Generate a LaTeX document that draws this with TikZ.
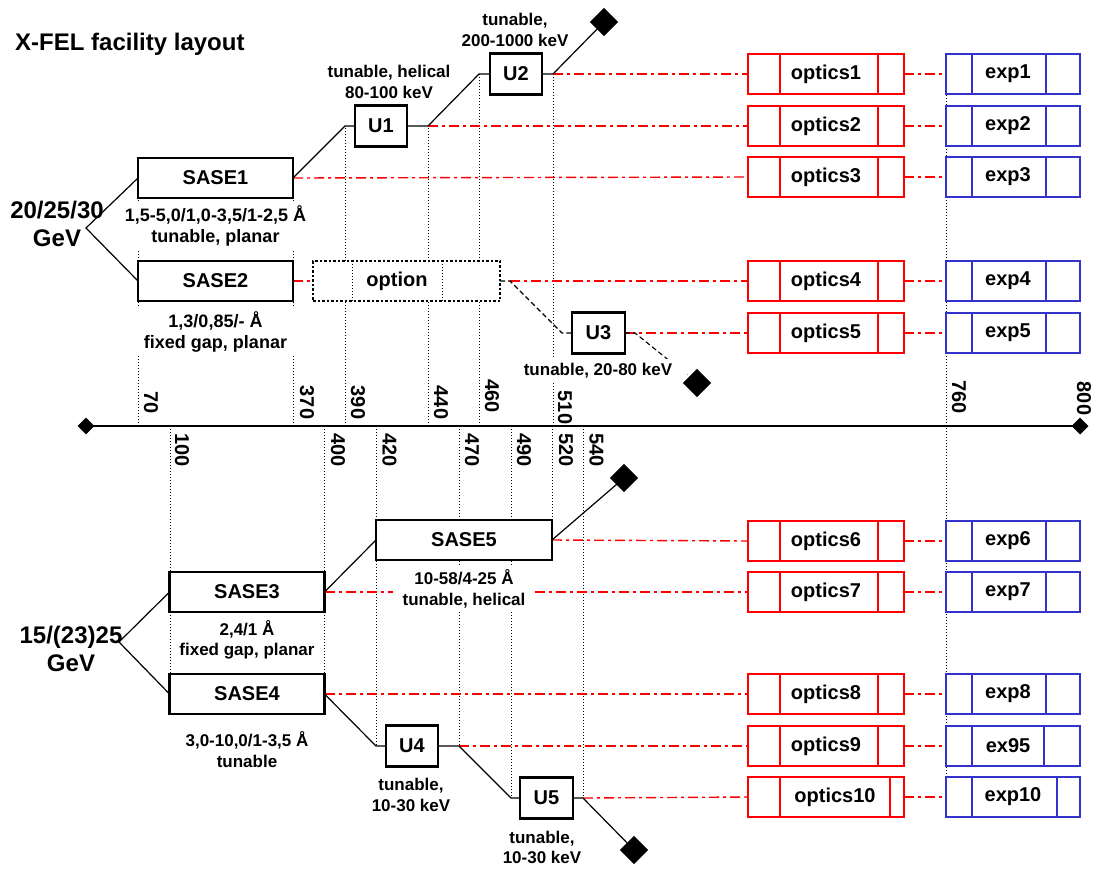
\documentclass[tikz,border=0pt]{standalone}
\usepackage{fontspec}
\setmainfont{Liberation Sans}
\usetikzlibrary{calc}
\definecolor{optred}{RGB}{255,0,0}
\definecolor{expblue}{RGB}{51,51,204}
\pgfdeclarelayer{bg}
\pgfsetlayers{bg,main}
\begin{document}
\begin{tikzpicture}[x=1pt,y=-1pt,
  bigf/.style={font=\fontsize{20}{24}\selectfont\bfseries},
  smallf/.style={font=\fontsize{17}{20.5}\selectfont\bfseries},
  sasebox/.style={draw, line width=2.5pt, fill=white, minimum width=155pt, minimum height=40pt, inner sep=0pt, outer sep=0pt, bigf},
  ubox/.style={draw, line width=2.3pt, fill=white, minimum width=52pt, minimum height=41pt, inner sep=0pt, outer sep=0pt, bigf},
  optbox/.style={draw=optred, line width=2.6pt, fill=white, minimum width=156pt, minimum height=40pt, inner sep=0pt, outer sep=0pt, bigf},
  expbox/.style={draw=expblue, line width=2.6pt, fill=white, minimum width=134pt, minimum height=40pt, inner sep=0pt, outer sep=0pt, bigf},
  optdiv/.style={draw=optred, line width=1.3pt},
  expdiv/.style={draw=expblue, line width=1.3pt},
  desc/.style={fill=white, align=center, inner xsep=4pt, inner ysep=4pt, smallf},
  ray/.style={draw=optred, line width=1.4pt, dash pattern=on 10pt off 4pt on 3pt off 4pt},
  link/.style={draw, line width=1.2pt},
  dashlink/.style={draw, line width=1.1pt, dash pattern=on 5pt off 3pt},
  guide/.style={draw, line width=0.8pt, dash pattern=on 1pt off 2pt},
  ticklbl/.style={rotate=-90, inner sep=0pt, bigf},
  endmark/.style={fill=black, rotate=45, minimum size=20pt, inner sep=0pt},
  axismark/.style={fill=black, rotate=45, minimum size=12pt, inner sep=0pt},
  gevf/.style={align=center, inner sep=0pt, font=\fontsize{24}{28}\selectfont\bfseries},
]
\useasboundingbox (0,0) rectangle (1106,868);

% title
\node[anchor=west, inner sep=0pt, font=\fontsize{24}{28}\selectfont\bfseries] (title) at (15,44) {X-FEL facility layout};

% energy labels
\node[gevf] (g1) at (57,223.5) {20/25/30\\GeV};
\node[gevf] (g2) at (71,649) {15/(23)25\\GeV};

% SASE boxes
\node[sasebox] (s1) at (215.5,178) {SASE1};
\node[sasebox] (s2) at (215.5,281) {SASE2};
\node[sasebox] (s3) at (247,592) {SASE3};
\node[sasebox] (s4) at (247,694) {SASE4};
\node[sasebox, minimum width=176pt] (s5) at (464,540) {SASE5};

% undulators
\node[ubox] (u1) at (381,126) {U1};
\node[ubox] (u2) at (516,74) {U2};
\node[ubox, minimum width=53pt] (u3) at (598.5,333) {U3};
\node[ubox] (u4) at (412,746) {U4};
\node[ubox, minimum width=53pt] (u5) at (546.5,798) {U5};

% option box
\node[draw, line width=2.5pt, dash pattern=on 2.5pt off 2pt, fill=white, minimum width=187pt, minimum height=40pt, inner sep=0pt, outer sep=0pt, bigf] (opt) at (406.5,281) {\hspace*{-19pt}option};
\draw[line width=1pt, dash pattern=on 1pt off 2pt] ($(opt.north west)+(39,0)$) -- ($(opt.south west)+(39,0)$);
\draw[line width=1pt, dash pattern=on 1pt off 2pt] ($(opt.north west)+(129,0)$) -- ($(opt.south west)+(129,0)$);

% optics boxes
\node[optbox] (o1) at (826,74) {optics1};
\node[optbox] (o2) at (826,126) {optics2};
\node[optbox] (o3) at (826,177) {optics3};
\node[optbox] (o4) at (826,281) {optics4};
\node[optbox] (o5) at (826,333) {optics5};
\node[optbox] (o6) at (826,541) {optics6};
\node[optbox] (o7) at (826,592) {optics7};
\node[optbox] (o8) at (826,694) {optics8};
\node[optbox] (o9) at (826,746) {optics9};
\node[optbox] (o10) at (826,797) {\hspace*{18pt}optics10};

% experiment boxes
\node[expbox] (e1) at (1013,74) {\hspace*{-10pt}exp1};
\node[expbox] (e2) at (1013,126) {\hspace*{-10pt}exp2};
\node[expbox] (e3) at (1013,177) {\hspace*{-10pt}exp3};
\node[expbox] (e4) at (1013,281) {\hspace*{-10pt}exp4};
\node[expbox] (e5) at (1013,333) {\hspace*{-10pt}exp5};
\node[expbox] (e6) at (1013,541) {\hspace*{-10pt}exp6};
\node[expbox] (e7) at (1013,592) {\hspace*{-10pt}exp7};
\node[expbox] (e8) at (1013,694) {\hspace*{-10pt}exp8};
\node[expbox] (e9) at (1013,746) {\hspace*{-10pt}ex95};
\node[expbox] (e10) at (1013,797) {exp10};

\foreach \k in {1,...,9} {
  \draw[optdiv] ($(o\k.north west)+(32,0)$) -- ($(o\k.south west)+(32,0)$);
  \draw[optdiv] ($(o\k.north east)+(-26,0)$) -- ($(o\k.south east)+(-26,0)$);
}
\draw[optdiv] ($(o10.north west)+(32,0)$) -- ($(o10.south west)+(32,0)$);
\draw[optdiv] ($(o10.north east)+(-14,0)$) -- ($(o10.south east)+(-14,0)$);
\foreach \k in {1,...,8} {
  \draw[expdiv] ($(e\k.north west)+(26,0)$) -- ($(e\k.south west)+(26,0)$);
  \draw[expdiv] ($(e\k.north east)+(-34,0)$) -- ($(e\k.south east)+(-34,0)$);
}
\draw[expdiv] ($(e9.north west)+(26,0)$) -- ($(e9.south west)+(26,0)$);
\draw[expdiv] ($(e9.north east)+(-36,0)$) -- ($(e9.south east)+(-36,0)$);
\draw[expdiv] ($(e10.north west)+(26,0)$) -- ($(e10.south west)+(26,0)$);
\draw[expdiv] ($(e10.north east)+(-23,0)$) -- ($(e10.south east)+(-23,0)$);

% descriptions
\node[desc, minimum width=166pt, font=\fontsize{18}{20.5}\selectfont\bfseries] (s1d) at (215.5,226) {1,5-5,0/1,0-3,5/1-2,5 Å\\tunable, planar};
\node[desc, minimum width=166pt, font=\fontsize{18}{20.5}\selectfont\bfseries] (s2d) at (215.5,332) {1,3/0,85/- Å\\fixed gap, planar};
\node[desc] (s3d) at (247,640) {2,4/1 Å\\fixed gap, planar};
\node[desc, inner xsep=10pt] (s5d) at (464,589) {10-58/4-25 Å\\tunable, helical};
\node[desc] (s4d) at (247,749.5) {3,0-10,0/1-3,5 Å\\tunable};
\node[desc, fill=none] (u1d) at (389,82) {tunable, helical\\80-100 keV};
\node[desc, fill=none] (u2d) at (515,30) {tunable,\\200-1000 keV};
\node[desc, inner xsep=15pt, inner ysep=5pt] (u3d) at (598,371) {tunable, 20-80 keV};
\node[desc] (u4d) at (411,795) {tunable,\\10-30 keV};
\node[desc] (u5d) at (542,847.5) {tunable,\\10-30 keV};

% axis ticks
\coordinate (a70) at (138,426);
\coordinate (a370) at (293,426);
\coordinate (a390) at (345,426);
\coordinate (a440) at (428,426);
\coordinate (a460) at (479,426);
\coordinate (a510) at (553,426);
\coordinate (a760) at (946,426);
\coordinate (a100) at (170,426);
\coordinate (a400) at (324,426);
\coordinate (a420) at (376,426);
\coordinate (a470) at (459,426);
\coordinate (a490) at (511,426);
\coordinate (a520) at (552,426);
\coordinate (a540) at (583,426);

\node[ticklbl] (t70) at (151,402.5) {70};
\node[ticklbl] (t370) at (307,402.5) {370};
\node[ticklbl] (t390) at (358,402.5) {390};
\node[ticklbl] (t440) at (441,402.5) {440};
\node[ticklbl] (t460) at (492,396) {460};
\node[ticklbl] (t510) at (565,407.5) {510};
\node[ticklbl] (t760) at (959,397) {760};
\node[ticklbl] (t800) at (1084,398.5) {800};
\node[ticklbl] (t100) at (182,450) {100};
\node[ticklbl] (t400) at (338,450) {400};
\node[ticklbl] (t420) at (389.5,450) {420};
\node[ticklbl] (t470) at (472,450) {470};
\node[ticklbl] (t490) at (524,450) {490};
\node[ticklbl] (t520) at (566,450) {520};
\node[ticklbl] (t540) at (596.5,450) {540};

% end marks
\node[endmark] (d1) at (604,22) {};
\node[endmark] (d2) at (697,383) {};
\node[endmark] (d3) at (624,478) {};
\node[endmark] (d4) at (634,850) {};
\node[axismark] (d5) at (86,426) {};
\node[axismark] (d6) at (1080,426) {};

% junctions
\coordinate (f1) at (86,228);
\coordinate (f2) at (119,642);
\coordinate (j1) at (345,126);
\coordinate (j2) at (428,126);
\coordinate (j3) at (479,74);
\coordinate (j4) at (553,74);
\coordinate (j5) at (510,281);
\coordinate (j6) at (562,333);
\coordinate (j7) at (635,333);
\coordinate (j8) at (376,746);
\coordinate (j9) at (459,746);
\coordinate (j10) at (511,798);
\coordinate (j11) at (583,798);

\begin{pgfonlayer}{bg}
  % guides
  \draw[guide] (a70) -- (a70 |- s1.west);
  \draw[guide] (a370) -- (a370 |- s1.east);
  \draw[guide] (a390) -- (j1);
  \draw[guide] (a440) -- (j2);
  \draw[guide] (a460) -- (j3);
  \draw[guide] (a510) -- (j4);
  \draw[guide] (e1.west) -- (e10.west);
  \draw[guide] (a100) -- (a100 |- s4.west);
  \draw[guide] (a400) -- (a400 |- s4.east);
  \draw[guide] (a420) -- (j8);
  \draw[guide] (a470) -- (j9);
  \draw[guide] (a490) -- (j10);
  \draw[guide] (a520) -- (a520 |- s5.east);
  \draw[guide] (a540) -- (j11);
  % axis
  \draw[line width=2.5pt] (d5.center) -- (d6.center);
  % rays
  \draw[ray] (j4) -- (o1.west);
  \draw[ray] (j2) -- (o2.west);
  \draw[ray] (s1.east) -- (o3.west);
  \draw[ray] (s2.east) -- (opt.west);
  \draw[ray] (j5) -- (o4.west);
  \draw[ray] (u3.east) -- (o5.west);
  \draw[ray] (s5.east) -- (o6.west);
  \draw[ray] (s3.east) -- (o7.west);
  \draw[ray] (s4.east) -- (o8.west);
  \draw[ray] (j9) -- (o9.west);
  \draw[ray] (j11) -- (o10.west);
  \foreach \k in {1,...,10} { \draw[ray] (o\k.east) -- (e\k.west); }
  % links
  \draw[link] (s1.west) -- (f1) -- (s2.west);
  \draw[link] (s1.east) -- (j1) -- (u1.west);
  \draw[link] (u1.east) -- (j2) -- (j3) -- (u2.west);
  \draw[link] (u2.east) -- (j4) -- (d1.center);
  \draw[dashlink] (opt.east) -- (j5) -- (j6) -- (u3.west);
  \draw[dashlink] (u3.east) -- (j7) -- (d2.center);
  \draw[link] (s3.west) -- (f2) -- (s4.west);
  \draw[link] (s3.east) -- (s5.west);
  \draw[link] (s5.east) -- (d3.center);
  \draw[link] (s4.east) -- (j8) -- (u4.west);
  \draw[link] (u4.east) -- (j9) -- (j10) -- (u5.west);
  \draw[link] (u5.east) -- (j11) -- (d4.center);
\end{pgfonlayer}
\end{tikzpicture}
\end{document}
